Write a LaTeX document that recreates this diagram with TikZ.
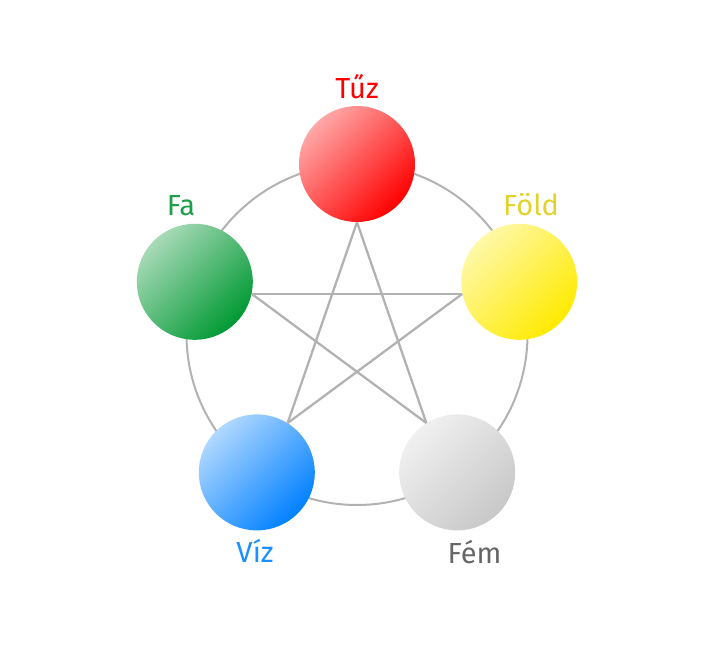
\documentclass[tikz,border=0pt]{standalone}
\usepackage{fontspec}
\setmainfont{Fira Sans}
\begin{document}
\begin{tikzpicture}[x=1pt,y=-1pt,
  elem/.style={circle, minimum size=116pt, inner sep=0pt, shading angle=45},
  lbl/.style={anchor=base, font=\fontsize{29}{34}\selectfont, inner sep=0pt},
  ringline/.style={draw=black!30, line width=2pt},
  starline/.style={draw=black!30, line width=2.3pt}]
\useasboundingbox (0,0) rectangle (713,645);
\definecolor{redL}{HTML}{FFA8A8}\definecolor{redD}{HTML}{FF0000}
\definecolor{grnL}{HTML}{A8DAB8}\definecolor{grnD}{HTML}{009933}
\definecolor{ylwL}{HTML}{FFF8A8}\definecolor{ylwD}{HTML}{FFEA00}
\definecolor{bluL}{HTML}{B0D8FF}\definecolor{bluD}{HTML}{0080FF}
\definecolor{gryL}{HTML}{F0F0F0}\definecolor{gryD}{HTML}{C8C8C8}
\definecolor{tGrn}{HTML}{1E9E48}\definecolor{tYlw}{HTML}{E2D22A}
\definecolor{tBlu}{HTML}{1890FF}\definecolor{tGry}{HTML}{666666}
\coordinate (c) at (357,334.5);
\node[circle, minimum size=341pt, inner sep=0pt, ringline] (ring) at (c) {};
\node[elem, top color=redL, bottom color=redD, shading angle=45] (tuz) at (357,164) {};
\node[elem, top color=grnL, bottom color=grnD, shading angle=45] (fa) at (194.8,281.8) {};
\node[elem, top color=ylwL, bottom color=ylwD, shading angle=45] (fold) at (519.2,281.8) {};
\node[elem, top color=bluL, bottom color=bluD, shading angle=45] (viz) at (256.8,472.4) {};
\node[elem, top color=gryL, bottom color=gryD, shading angle=45] (fem) at (457.2,472.4) {};
\draw[starline] (tuz.-90) -- (viz.58);
\draw[starline] (tuz.-90) -- (fem.122);
\draw[starline] (fa.-12) -- (fold.192);
\draw[starline] (fa.-12) -- (fem.122);
\draw[starline] (fold.192) -- (viz.58);
\node[lbl, text=red] (ltuz) at (357,98) {Tűz};
\node[lbl, text=tGrn] (lfa) at (181,215.5) {Fa};
\node[lbl, text=tYlw] (lfold) at (531,215) {Föld};
\node[lbl, text=tBlu] (lviz) at (255,562) {Víz};
\node[lbl, text=tGry] (lfem) at (474.5,563) {Fém};
\end{tikzpicture}
\end{document}
